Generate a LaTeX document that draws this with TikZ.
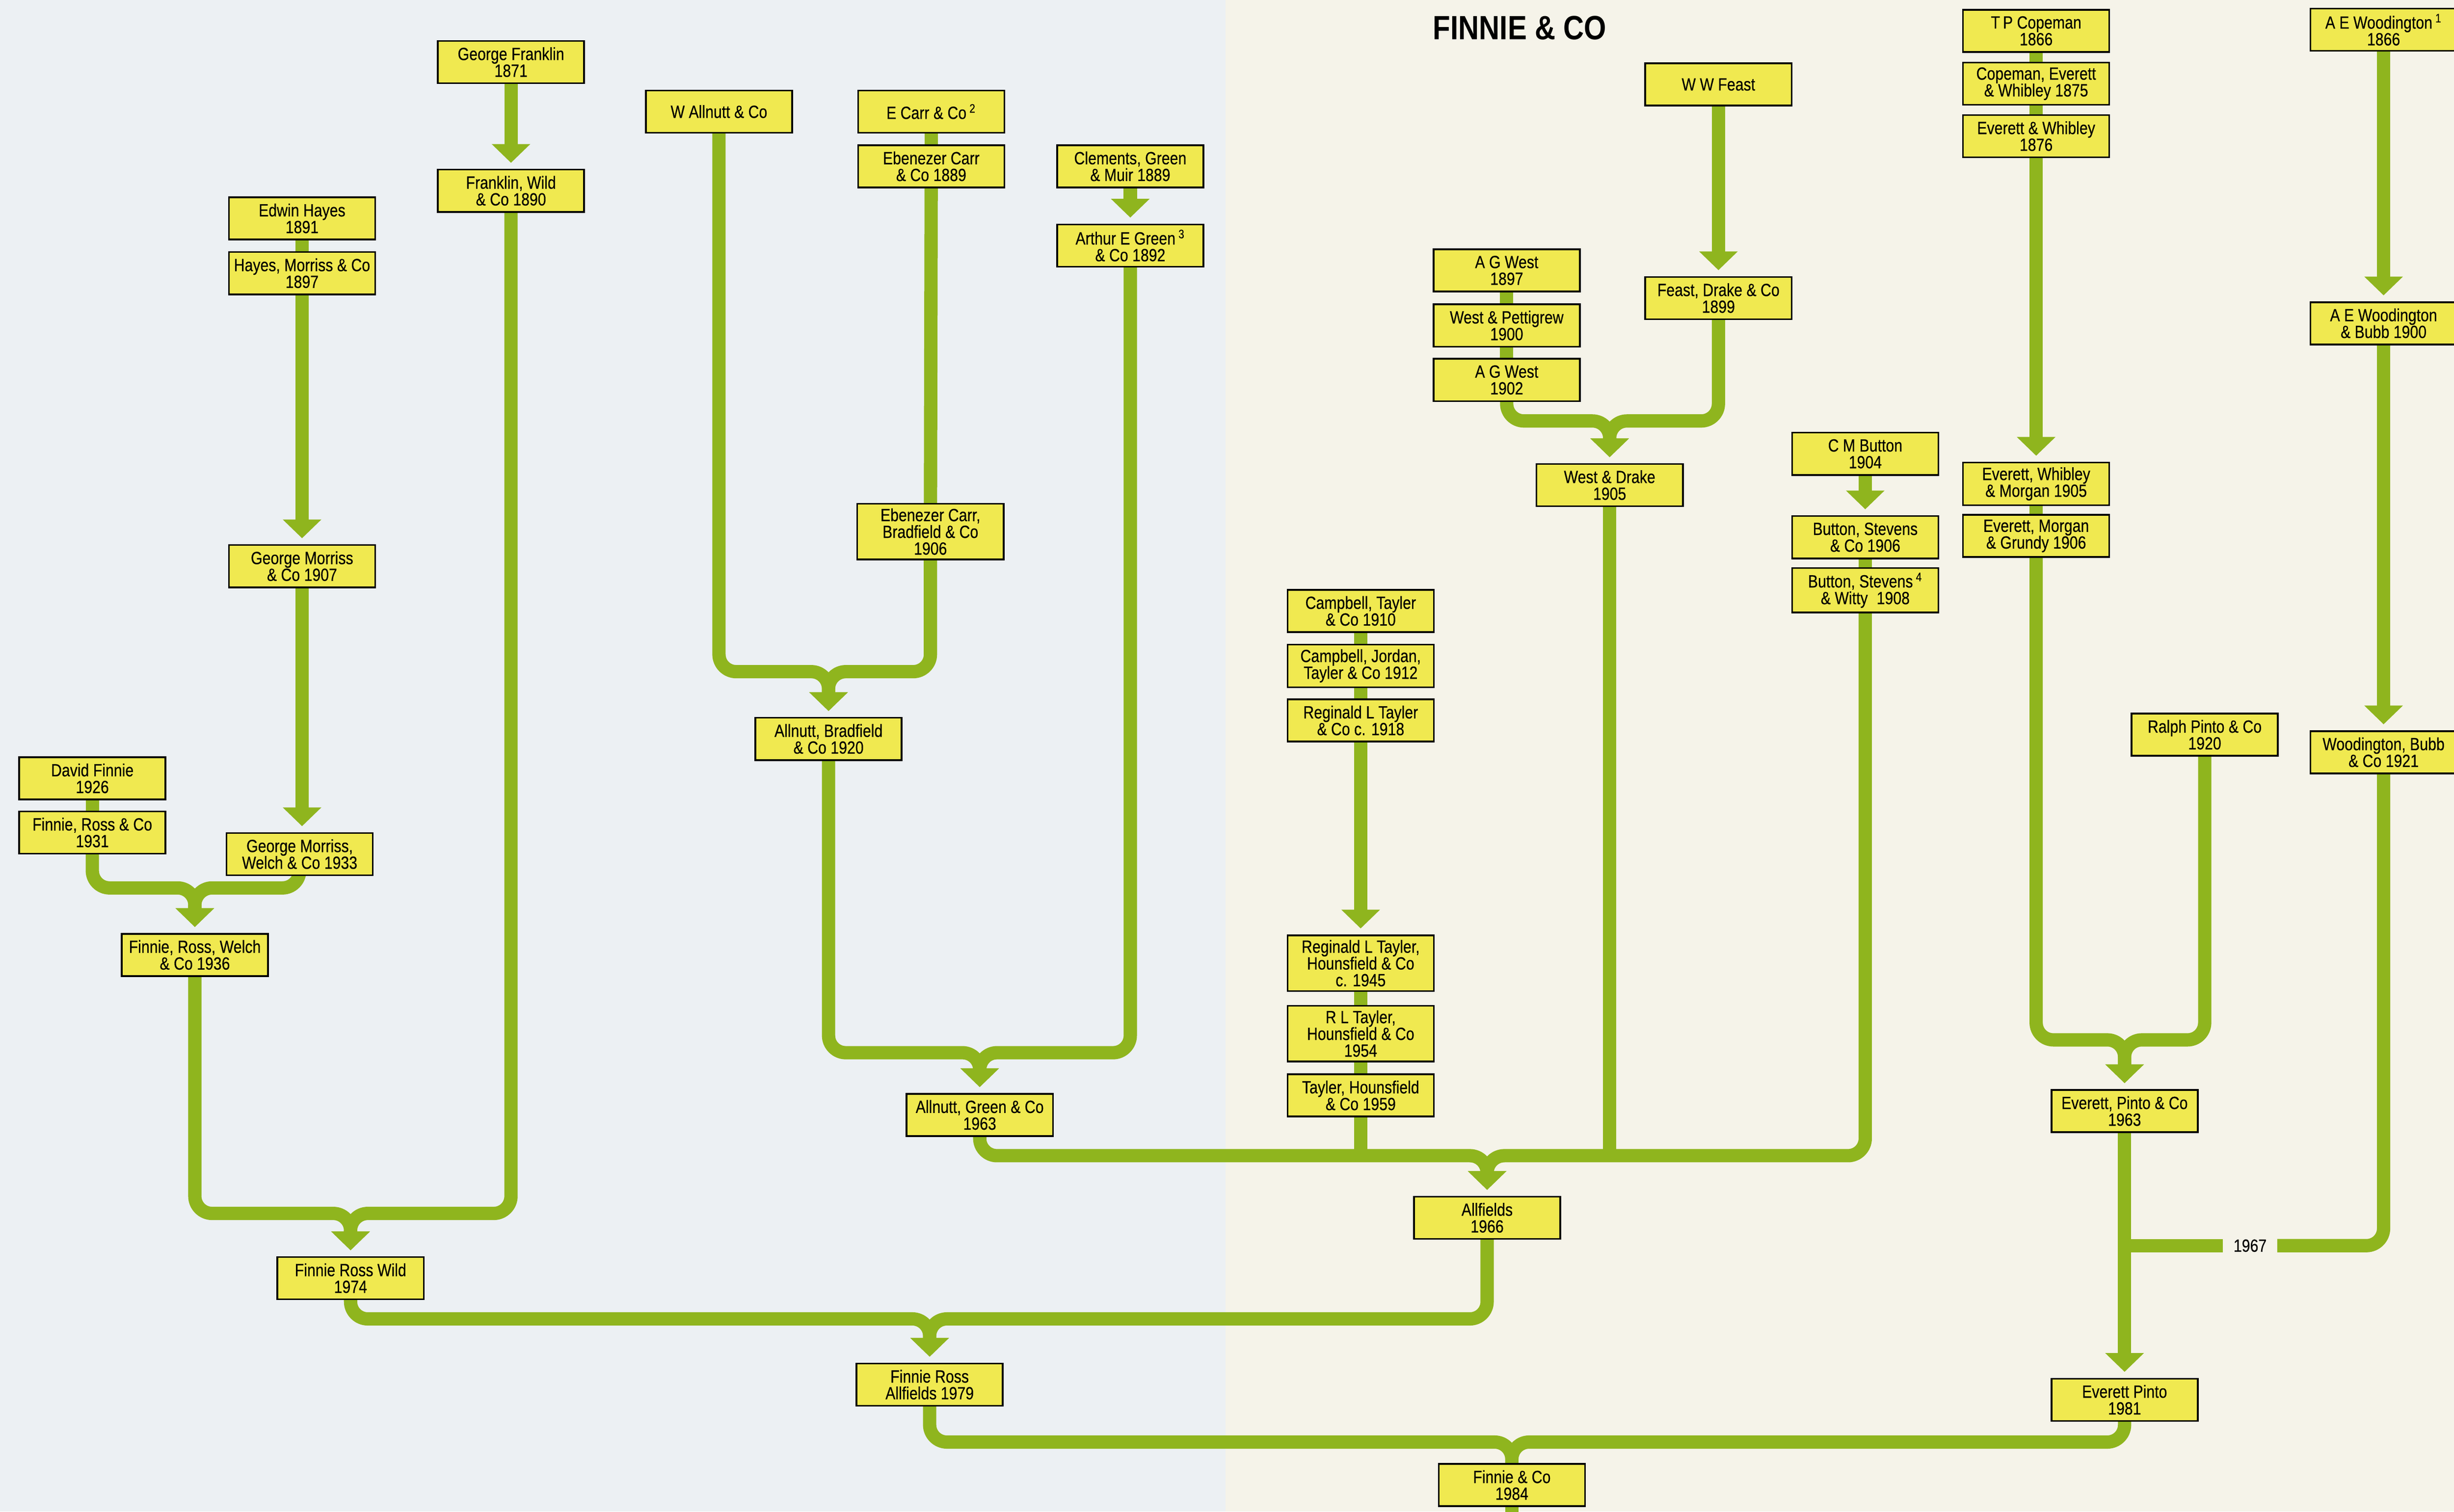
\documentclass[tikz,border=0pt]{standalone}
\usepackage{fontspec}
\setmainfont{Liberation Sans}[FakeStretch=0.84,FakeBold=0.35]
\newfontfamily\titlefont{Liberation Sans}[FakeStretch=0.85]
\usetikzlibrary{arrows.meta}
\pgfdeclarelayer{paper}
\pgfdeclarelayer{lines}
\pgfsetlayers{paper,lines,main}
\definecolor{linkgreen}{RGB}{143,181,30}
\definecolor{boxyellow}{RGB}{240,233,80}
\definecolor{pageL}{RGB}{236,240,243}
\definecolor{pageR}{RGB}{245,243,233}
\tikzset{
 firm/.style={draw=black, line width=1.1pt, fill=boxyellow, minimum width=93.5pt,
   minimum height=27pt, inner xsep=2pt, inner ysep=3pt, align=center,
   font=\fontsize{11.3}{10.7}\selectfont},
 link/.style={draw=linkgreen, line width=8.5pt, rounded corners=11pt},
 flow/.style={link, -{Triangle[width=24pt,length=12pt]}, shorten >=3.8pt},
 yearlabel/.style={font=\fontsize{11.3}{10.7}\selectfont, inner xsep=6.6pt, inner ysep=0pt},
 heading/.style={font=\titlefont\bfseries\fontsize{21.5}{22}\selectfont, inner sep=0pt}
}
\begin{document}
\begin{tikzpicture}[x=1pt,y=-1pt]
\useasboundingbox (0,0) rectangle (1568,966);
\begin{pgfonlayer}{paper}
\fill[pageL] (0,0) rectangle (783,966);
\fill[pageR] (783,0) rectangle (1568,966);
\end{pgfonlayer}

\node[heading] (title) at (971,18) {FINNIE \& CO};

% left group
\node[firm] (gf71) at (326.5,39.7) {George Franklin\\1871};
\node[firm] (fw90) at (326.5,121.9) {Franklin, Wild\\\& Co 1890};
\node[firm] (eh91) at (193,139.6) {Edwin Hayes\\1891};
\node[firm] (hm97) at (193,174.6) {Hayes, Morriss \& Co\\1897};
\node[firm] (gm07) at (193,361.8) {George Morriss\\\& Co 1907};
\node[firm] (gmw33) at (191.5,545.8) {George Morriss,\\Welch \& Co 1933};
\node[firm] (df26) at (59,497.4) {David Finnie\\1926};
\node[firm] (frc31) at (59,532) {Finnie, Ross \& Co\\1931};
\node[firm] (frw36) at (124.5,610.2) {Finnie, Ross, Welch\\\& Co 1936};
\node[firm] (frw74) at (224,816.8) {Finnie Ross Wild\\1974};

% middle group
\node[firm] (wa) at (459.4,71.3) {W Allnutt \& Co};
\node[firm] (ec) at (595,71.3) {E Carr \& Co\,\textsuperscript{2}};
\node[firm] (ebc89) at (595,106.3) {Ebenezer Carr\\\& Co 1889};
\node[firm] (ecb06) at (594.5,339.7) {Ebenezer Carr,\\Bradfield \& Co\\1906};
\node[firm] (ab20) at (529.4,472.2) {Allnutt, Bradfield\\\& Co 1920};
\node[firm] (cgm89) at (722.2,106.3) {Clements, Green\\\& Muir 1889};
\node[firm] (aeg92) at (722.2,156.9) {Arthur E Green\,\textsuperscript{3}\\\& Co 1892};
\node[firm] (ag63) at (626,712.5) {Allnutt, Green \& Co\\1963};
\node[firm] (fra79) at (594,884.8) {Finnie Ross\\Allfields 1979};

% centre group
\node[firm] (wwf) at (1098,54) {W W Feast};
\node[firm] (fd99) at (1098,190.5) {Feast, Drake \& Co\\1899};
\node[firm] (agw97) at (962.7,172.8) {A G West\\1897};
\node[firm] (wp00) at (962.7,208) {West \& Pettigrew\\1900};
\node[firm] (agw02) at (962.7,242.8) {A G West\\1902};
\node[firm] (wd05) at (1028.5,310) {West \& Drake\\1905};
\node[firm] (ct10) at (869.4,390.4) {Campbell, Tayler\\\& Co 1910};
\node[firm] (cjt12) at (869.4,425.5) {Campbell, Jordan,\\Tayler \& Co 1912};
\node[firm] (rlt18) at (869.4,460.4) {Reginald L Tayler\\\& Co c. 1918};
\node[firm] (rlth45) at (869.4,615.5) {Reginald L Tayler,\\Hounsfield \& Co\\c. 1945};
\node[firm] (rlth54) at (869.4,660.5) {R L Tayler,\\Hounsfield \& Co\\1954};
\node[firm] (th59) at (869.4,700) {Tayler, Hounsfield\\\& Co 1959};
\node[firm] (allf) at (950.2,778.2) {Allfields\\1966};
\node[firm] (fc84) at (966,949) {Finnie \& Co\\1984};
\node[firm] (cmb04) at (1191.8,290) {C M Button\\1904};
\node[firm] (bs06) at (1191.8,343.3) {Button, Stevens\\\& Co 1906};
\node[firm] (bsw08) at (1191.8,377.2) {Button, Stevens\,\textsuperscript{4}\\\& Witty\enspace 1908};

% right group
\node[firm] (tpc66) at (1301,19.7) {T\,P Copeman\\1866};
\node[firm] (cew75) at (1301,53.5) {Copeman, Everett\\\& Whibley 1875};
\node[firm] (ew76) at (1301,87) {Everett \& Whibley\\1876};
\node[firm] (ewm05) at (1301,309.2) {Everett, Whibley\\\& Morgan 1905};
\node[firm] (emg06) at (1301,342.5) {Everett, Morgan\\\& Grundy 1906};
\node[firm] (rp20) at (1408.7,469.5) {Ralph Pinto \& Co\\1920};
\node[firm] (ep63) at (1357.5,710) {Everett, Pinto \& Co\\1963};
\node[firm] (ep81) at (1357.5,894.5) {Everett Pinto\\1981};
\node[firm] (aew66) at (1523,19) {A E Woodington\,\textsuperscript{1}\\1866};
\node[firm] (aewb00) at (1523,206.6) {A E Woodington\\\& Bubb 1900};
\node[firm] (wbc21) at (1523,480.7) {Woodington, Bubb\\\& Co 1921};
\node[yearlabel] (l67) at (1437.7,796) {1967};

% merge points
\coordinate (mFRW36) at (124.5,567.4);
\coordinate (mFRW74) at (224,775.4);
\coordinate (mAB20) at (529.4,429.2);
\coordinate (mAG63) at (626,672.7);
\coordinate (mWD05) at (1028.5,269);
\coordinate (mAllf) at (950.2,738.5);
\coordinate (mFRA79) at (594,842.8);
\coordinate (mFC84) at (966,921.5);
\coordinate (mEP63) at (1357.5,664.5);
\coordinate (fcend) at (966,975);

\begin{pgfonlayer}{lines}
% left
\draw[flow] (gf71.center) -- (fw90.north);
\draw[link] (eh91.center) -- (hm97.center);
\draw[flow] (hm97.center) -- (gm07.north);
\draw[flow] (gm07.center) -- (gm07.center |- gmw33.north);
\draw[link] (df26.center) -- (frc31.center);
\draw[flow] (frc31.center) |- (mFRW36) -- (frw36.north);
\draw[flow] (gmw33.center) |- (mFRW36) -- (frw36.north);
\draw[flow] (frw36.center) |- (mFRW74) -- (frw74.north);
\draw[flow] (fw90.center) |- (mFRW74) -- (frw74.north);
\draw[flow] (frw74.center) |- (mFRA79) -- (fra79.north);
% middle
\draw[link] (ec.center) -- (ebc89.center);
\draw[link] (ebc89.center) -- (ecb06.center);
\draw[flow] (wa.center) |- (mAB20) -- (ab20.north);
\draw[flow] (ecb06.center) |- (mAB20) -- (ab20.north);
\draw[flow] (cgm89.center) -- (aeg92.north);
\draw[flow] (ab20.center) |- (mAG63) -- (ag63.north);
\draw[flow] (aeg92.center) |- (mAG63) -- (ag63.north);
\draw[flow] (ag63.center) |- (mAllf) -- (allf.north);
\draw[link] (fra79.center) |- (mFC84) -- (fc84.north);
% centre
\draw[flow] (wwf.center) -- (fd99.north);
\draw[link] (agw97.center) -- (wp00.center) -- (agw02.center);
\draw[flow] (agw02.center) |- (mWD05) -- (wd05.north);
\draw[flow] (fd99.center) |- (mWD05) -- (wd05.north);
\draw[link] (wd05.center) -- (wd05.center |- mAllf);
\draw[link] (ct10.center) -- (cjt12.center) -- (rlt18.center);
\draw[flow] (rlt18.center) -- (rlth45.north);
\draw[link] (rlth45.center) -- (rlth54.center) -- (th59.center);
\draw[link] (th59.center) -- (th59.center |- mAllf);
\draw[flow] (cmb04.center) -- (bs06.north);
\draw[link] (bs06.center) -- (bsw08.center);
\draw[flow] (bsw08.center) |- (mAllf) -- (allf.north);
\draw[flow] (allf.center) |- (mFRA79) -- (fra79.north);
\draw[link] (fc84.center) -- (fcend);
% right
\draw[link] (tpc66.center) -- (cew75.center) -- (ew76.center);
\draw[flow] (ew76.center) -- (ewm05.north);
\draw[link] (ewm05.center) -- (emg06.center);
\draw[flow] (emg06.center) |- (mEP63) -- (ep63.north);
\draw[flow] (rp20.center) |- (mEP63) -- (ep63.north);
\draw[flow] (ep63.center) -- (ep81.north);
\draw[flow] (aew66.center) -- (aewb00.north);
\draw[flow] (aewb00.center) -- (wbc21.north);
\draw[link] (wbc21.center) |- (l67.east);
\draw[link] (l67.west) -- (ep63.center |- l67.west);
\draw[link] (ep81.center) |- (mFC84) -- (fc84.north);
\end{pgfonlayer}
\end{tikzpicture}
\end{document}
